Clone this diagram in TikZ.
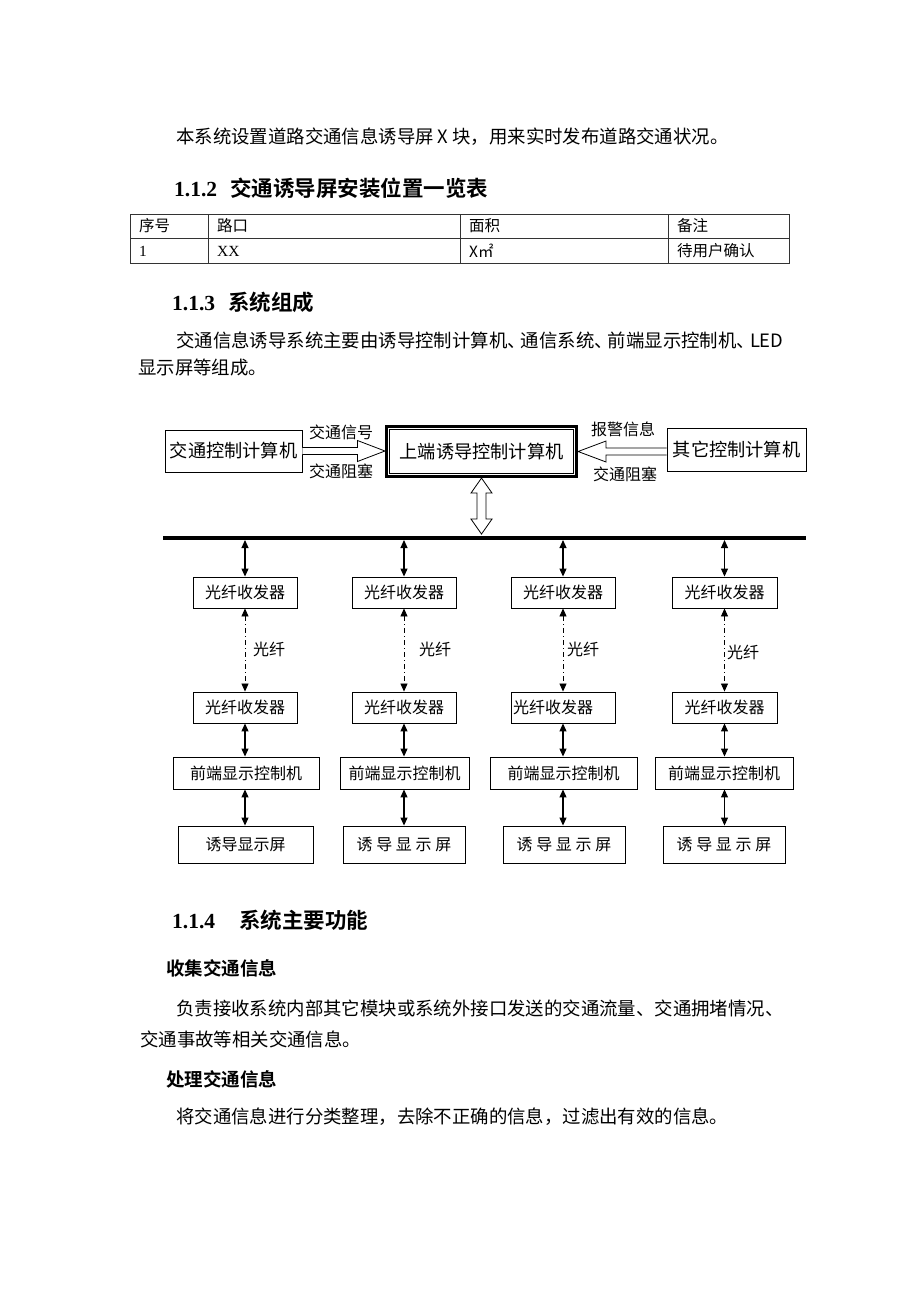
\documentclass[tikz,border=0pt]{standalone}
\usepackage{fontspec}
\setmainfont{Liberation Serif}
\newfontfamily\cjk[BoldFont={Noto Sans CJK SC Bold}]{Noto Sans CJK SC}
\usetikzlibrary{arrows.meta,calc}

\begin{document}
\begin{tikzpicture}[
        x=1pt, y=-1pt,
        txt/.style={anchor=west, inner sep=0pt, font=\cjk\fontsize{18.4}{22}\selectfont},
        head/.style={anchor=west, inner sep=0pt, font=\bfseries\fontsize{21.5}{26}\selectfont},
        subhead/.style={anchor=west, inner sep=0pt, font=\cjk\bfseries\fontsize{18.5}{22}\selectfont},
        cell/.style={anchor=west, inner sep=0pt, font=\cjk\fontsize{15.5}{18}\selectfont},
        bigbox/.style={draw, line width=0.9pt, inner sep=0pt, font=\cjk\fontsize{18.2}{22}\selectfont},
        smallbox/.style={draw, line width=0.9pt, inner sep=0pt, minimum height=31pt, font=\cjk\fontsize{16}{19}\selectfont},
        lbl/.style={anchor=west, inner sep=0pt, font=\cjk\fontsize{16}{19}\selectfont},
        link/.style={line width=1.1pt, {Triangle[length=8pt,width=7pt]}-{Triangle[length=8pt,width=7pt]}},
        fibre/.style={link, line width=0.8pt, dash pattern=on 5pt off 3pt on 1pt off 3pt},
        hollow/.style={line width=0.8pt, fill=white}
    ]

    \fill[white] (0,0) rectangle (920,1302);
    \useasboundingbox (0,0) rectangle (920,1302);

    % 正文
    \node[txt] (p1) at (176,137) {本系统设置道路交通信息诱导屏 X 块，用来实时发布道路交通状况。};
    \node[head] (h2) at (174,188) {1.1.2\hspace{13pt}{\cjk 交通诱导屏安装位置一览表}};

    % 表格
    \draw[line width=0.8pt, black!80] (130,214) rectangle (789,263);
    \draw[line width=0.8pt, black!80] (130,238) -- (789,238);
    \draw[line width=0.8pt, black!80] (208,214) -- (208,263);
    \draw[line width=0.8pt, black!80] (460,214) -- (460,263);
    \draw[line width=0.8pt, black!80] (668,214) -- (668,263);
    \node[cell] (c11) at (139,226) {序号};
    \node[cell] (c12) at (217,226) {路口};
    \node[cell] (c13) at (469,226) {面积};
    \node[cell] (c14) at (677,226) {备注};
    \node[cell] (c21) at (139,251) {\rmfamily 1};
    \node[cell] (c22) at (217,251) {\rmfamily XX};
    \node[cell] (c23) at (469,251) {X㎡};
    \node[cell] (c24) at (677,251) {待用户确认};

    \node[head] (h3) at (172,302) {1.1.3\hspace{13pt}{\cjk 系统组成}};
    \node[txt] (p2) at (176,340) {交通信息诱导系统主要由诱导控制计算机、\hspace{-5pt}通信系统、\hspace{-5pt}前端显示控制机、\hspace{-5pt}LED};
    \node[txt] (p3) at (138,368) {显示屏等组成。};

    % 上层节点
    \node[bigbox, minimum width=137pt, minimum height=42pt] (tcc) at (233.5,451) {交通控制计算机};
    \node[bigbox, line width=2.6pt, minimum width=190.5pt, minimum height=50.5pt] (host) at (481.5,451.5) {上端诱导控制计算机};
    \draw[line width=0.8pt] ($(host.north west)+(4.6,4.6)$) rectangle ($(host.south east)+(-4.6,-4.6)$);
    \node[bigbox, minimum width=139pt, minimum height=43pt] (oth) at (736.5,449.5) {其它控制计算机};

    \node[lbl] (sig) at (309,432) {交通信号};
    \node[lbl] (jam1) at (309,471) {交通阻塞};
    \node[lbl] (alarm) at (591,429) {报警信息};
    \node[lbl] (jam2) at (593,474) {交通阻塞};

    % 空心箭头
    \draw[hollow] ($(tcc.east)+(0,-3.5)$) -- ++(55,0) -- ++(0,-7) -- (host.west |- tcc.east)
        -- ($(tcc.east)+(55,10.5)$) -- ++(0,-7) -- ($(tcc.east)+(0,3.5)$);
    \draw[hollow] ($(oth.west |- host.east)+(0,-3.5)$) -- ($(host.east)+(28,-3.5)$) -- ++(0,-7) -- (host.east)
        -- ($(host.east)+(28,10.5)$) -- ++(0,-7) -- ($(oth.west |- host.east)+(0,3.5)$);
    \draw[hollow] (host.south) -- ++(10.5,15) -- ++(-6,0) -- ++(0,26) -- ++(6,0) -- ++(-10.5,15)
        -- ++(-10.5,-15) -- ++(6,0) -- ++(0,-26) -- ++(-6,0) -- cycle;

    % 总线
    \coordinate (busL) at (163,538);
    \coordinate (busR) at (806,538);
    \draw[line width=4pt] (busL) -- (busR);

    % 光纤收发器
    \node[smallbox, minimum width=104pt] (fa1) at (245,592.5) {光纤收发器};
    \node[smallbox, minimum width=104pt] (fa2) at (404,592.5) {光纤收发器};
    \node[smallbox, minimum width=104pt] (fa3) at (563,592.5) {光纤收发器};
    \node[smallbox, minimum width=105pt] (fa4) at (724.5,592.5) {光纤收发器};

    \node[smallbox, minimum width=104pt] (fb1) at (245,707.5) {光纤收发器};
    \node[smallbox, minimum width=104pt] (fb2) at (404,707.5) {光纤收发器};
    \node[smallbox, text width=100pt, inner xsep=2pt, align=left] (fb3) at (563,707.5) {光纤收发器};
    \node[smallbox, minimum width=105pt] (fb4) at (724.5,707.5) {光纤收发器};

    \node[lbl] (g1) at (253,649) {光纤};
    \node[lbl] (g2) at (419,649) {光纤};
    \node[lbl] (g3) at (567,649) {光纤};
    \node[lbl] (g4) at (727,652) {光纤};

    % 前端显示控制机
    \node[smallbox, minimum width=146pt, minimum height=32pt] (fe1) at (246,773) {前端显示控制机};
    \node[smallbox, minimum width=129pt, minimum height=32pt] (fe2) at (404.5,773) {前端显示控制机};
    \node[smallbox, minimum width=147pt, minimum height=32pt] (fe3) at (563.5,773) {前端显示控制机};
    \node[smallbox, minimum width=138pt, minimum height=32pt] (fe4) at (724,773) {前端显示控制机};

    % 诱导显示屏
    \node[smallbox, minimum width=135pt, minimum height=37pt] (sc1) at (245.5,844.5) {诱导显示屏};
    \node[smallbox, minimum width=122pt, minimum height=37pt] (sc2) at (404,844.5) {诱\hspace{3.7pt}导\hspace{3.7pt}显\hspace{3.7pt}示\hspace{3.7pt}屏};
    \node[smallbox, minimum width=122pt, minimum height=37pt] (sc3) at (564,844.5) {诱\hspace{3.7pt}导\hspace{3.7pt}显\hspace{3.7pt}示\hspace{3.7pt}屏};
    \node[smallbox, minimum width=122pt, minimum height=37pt] (sc4) at (724,844.5) {诱\hspace{3.7pt}导\hspace{3.7pt}显\hspace{3.7pt}示\hspace{3.7pt}屏};

    % 连线
    \draw[link] ($(fa1.north |- busL)+(0,2)$) -- (fa1.north);
    \draw[link] ($(fa2.north |- busL)+(0,2)$) -- (fa2.north);
    \draw[link] ($(fa3.north |- busL)+(0,2)$) -- (fa3.north);
    \draw[link] ($(fa4.north |- busL)+(0,2)$) -- (fa4.north);

    \draw[fibre] (fa1.south) -- (fb1.north);
    \draw[fibre] (fa2.south) -- (fb2.north);
    \draw[fibre] (fa3.south) -- (fb3.north);
    \draw[fibre] (fa4.south) -- (fb4.north);

    \draw[link] (fb1.south) -- (fb1.south |- fe1.north);
    \draw[link] (fb2.south) -- (fb2.south |- fe2.north);
    \draw[link] (fb3.south) -- (fb3.south |- fe3.north);
    \draw[link] (fb4.south) -- (fb4.south |- fe4.north);

    \draw[link] (fb1.south |- fe1.south) -- (fb1.south |- sc1.north);
    \draw[link] (fb2.south |- fe2.south) -- (fb2.south |- sc2.north);
    \draw[link] (fb3.south |- fe3.south) -- (fb3.south |- sc3.north);
    \draw[link] (fb4.south |- fe4.south) -- (fb4.south |- sc4.north);

    % 功能
    \node[head] (h4) at (172,920) {1.1.4\hspace{24pt}{\cjk 系统主要功能}};
    \node[subhead] (s1) at (166,968) {收集交通信息};
    \node[txt] (p4) at (176,1008) {负责接收系统内部其它模块或系统外接口发送的交通流量、交通拥堵情况、};
    \node[txt] (p5) at (140,1039) {交通事故等相关交通信息。};
    \node[subhead] (s2) at (166,1079) {处理交通信息};
    \node[txt] (p6) at (176,1117) {将交通信息进行分类整理，去除不正确的信息，过滤出有效的信息。};

\end{tikzpicture}
\end{document}
